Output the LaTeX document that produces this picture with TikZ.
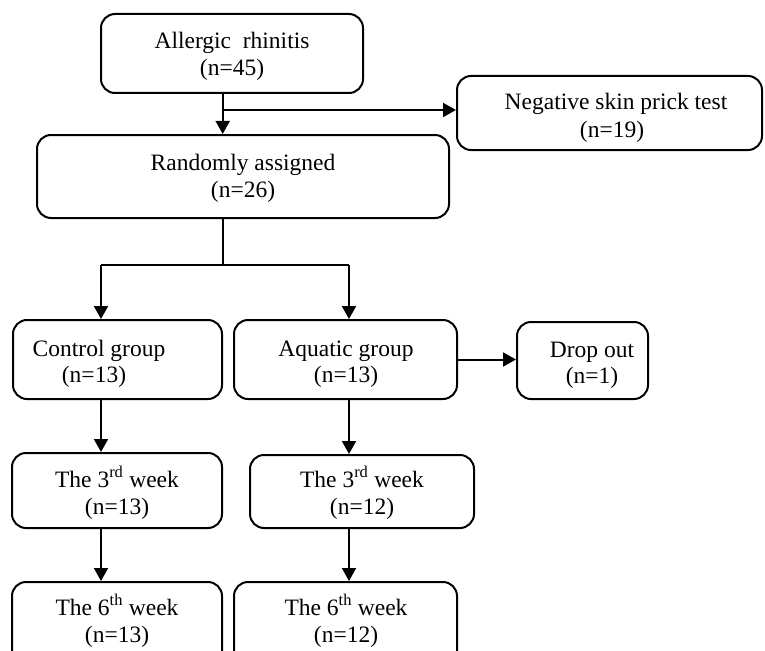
\documentclass[tikz,border=0pt]{standalone}
\usepackage{fontspec}
\setmainfont{Liberation Serif}
\usetikzlibrary{arrows.meta,calc}
\begin{document}
\begin{tikzpicture}[x=1pt,y=-1pt,
  box/.style={draw, line width=2pt, rounded corners=14pt, inner sep=0pt},
  txt/.style={anchor=base, inner sep=0pt, font=\fontsize{23.5}{28}\selectfont},
  arr/.style={line width=2pt, -{Triangle[width=14pt,length=13pt]}},
  ln/.style={line width=2pt}]
\useasboundingbox (0,0) rectangle (765,650);

% boxes
\node[box, minimum width=262pt, minimum height=79pt] (allergic) at (232,53.5) {};
\node[box, minimum width=305pt, minimum height=74pt] (neg) at (609.5,113) {};
\node[box, minimum width=412pt, minimum height=83pt] (rand) at (243,176.5) {};
\node[box, minimum width=209pt, minimum height=79pt] (control) at (117.5,359.5) {};
\node[box, minimum width=223pt, minimum height=79pt] (aquatic) at (345.5,359.5) {};
\node[box, minimum width=131pt, minimum height=77pt] (drop) at (582.5,360.5) {};
\node[box, minimum width=210pt, minimum height=75pt] (c3) at (117,490.5) {};
\node[box, minimum width=224pt, minimum height=73pt] (a3) at (362,491.5) {};
\node[box, minimum width=210pt, minimum height=98pt] (c6) at (117,631) {};
\node[box, minimum width=223pt, minimum height=98pt] (a6) at (345.5,631) {};

% texts
\node[txt] (t1a) at (232,49) {Allergic\hspace{0.5em}rhinitis};
\node[txt] (t1b) at (232,76) {(n=45)};
\node[txt] (t2a) at (616,110) {Negative skin prick test};
\node[txt] (t2b) at (612,138) {(n=19)};
\node[txt] (t3a) at (243,170) {Randomly assigned};
\node[txt] (t3b) at (243,197) {(n=26)};
\node[txt] (t4a) at (99,356) {Control group};
\node[txt] (t4b) at (94,382) {(n=13)};
\node[txt] (t5a) at (346,356) {Aquatic group};
\node[txt] (t5b) at (346,382) {(n=13)};
\node[txt] (t6a) at (592,357) {Drop out};
\node[txt] (t6b) at (592,383) {(n=1)};
\node[txt] (t7a) at (117,487) {The 3\textsuperscript{rd} week};
\node[txt] (t7b) at (117,514) {(n=13)};
\node[txt] (t8a) at (362,487) {The 3\textsuperscript{rd} week};
\node[txt] (t8b) at (362,514) {(n=12)};
\node[txt] (t9a) at (117,615) {The 6\textsuperscript{th} week};
\node[txt] (t9b) at (117,642) {(n=13)};
\node[txt] (t10a) at (346,615) {The 6\textsuperscript{th} week};
\node[txt] (t10b) at (346,642) {(n=12)};

% connector coordinates
\coordinate (br) at (222.7,110);
\coordinate (sp) at (222.7,265);
\coordinate (cl) at (101,265);
\coordinate (cr) at (349,265);

% connectors
\draw[arr] (br |- allergic.south) -- (br |- rand.north);
\draw[arr] (br) -- (br -| neg.west);
\draw[ln] (sp |- rand.south) -- (sp);
\draw[ln] (cl) -- (cr);
\draw[arr] (cl) -- (cl |- control.north);
\draw[arr] (cr) -- (cr |- aquatic.north);
\draw[arr] (aquatic.east) -- (aquatic.east -| drop.west);
\draw[arr] (cl |- control.south) -- (cl |- c3.north);
\draw[arr] (cl |- c3.south) -- (cl |- c6.north);
\draw[arr] (cr |- aquatic.south) -- (cr |- a3.north);
\draw[arr] (cr |- a3.south) -- (cr |- a6.north);
\end{tikzpicture}
\end{document}
